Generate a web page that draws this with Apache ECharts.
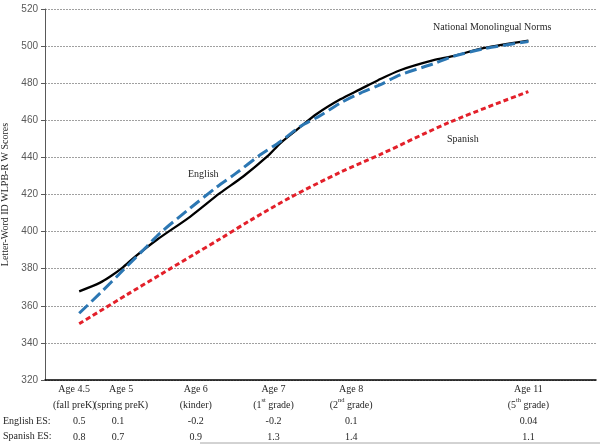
<!DOCTYPE html>
<html>
<head>
<meta charset="utf-8">
<script src="https://cdn.jsdelivr.net/npm/echarts@6/dist/echarts.min.js"></script>
<style>html,body{margin:0;padding:0;background:#fff}#c{width:600px;height:444px}</style>
</head>
<body>
<div id="c"></div>
<script>
// Time points (years after fall preK) used as x positions of the waves
const timePoints = [0, 0.5, 1.5, 2.5, 3.5, 5.78];
const ageLabels = ['Age 4.5', 'Age 5', 'Age 6', 'Age 7', 'Age 8', 'Age 11'];
const gradeLabels = ['(fall preK)', '(spring preK)', '(kinder)', '(1{s|st} grade)', '(2{s|nd} grade)', '(5{s|th} grade)'];
const englishES = ['0.5', '0.1', '-0.2', '-0.2', '0.1', '0.04'];
const spanishES = ['0.8', '0.7', '0.9', '1.3', '1.4', '1.1'];
const yTicks = [320, 340, 360, 380, 400, 420, 440, 460, 480, 500, 520];
const xMin = -0.44, xMax = 6.65;

// Curves: [time, W score]
const normsCurve = [[0,367.8],[0.27,372.5],[0.4,375.8],[0.55,380.3],[0.72,386.5],[1.0,395.6],[1.43,408.1],[1.81,420.7],[2.11,429.7],[2.42,440.5],[2.59,447.7],[2.81,455.2],[3.06,463.5],[3.36,471.3],[3.62,476.8],[3.84,481.5],[4.13,487.0],[4.56,492.4],[4.81,494.6],[5.2,498.9],[5.78,503]];
const englishCurve = [[0,356],[0.27,366.8],[0.57,379.4],[0.87,392],[1.04,399.2],[1.43,412.7],[1.77,424],[2.02,431.5],[2.33,441.4],[2.59,448.6],[2.84,456.5],[3.1,462.5],[3.36,469.3],[3.62,474.7],[3.87,479.1],[4.13,484.5],[4.56,490.5],[4.81,494.4],[5.2,498.5],[5.78,502.5]];
const spanishCurve = [[0,350.3],[0.61,365.9],[1.04,376.7],[1.47,387.5],[1.81,396],[2.2,406],[2.72,418.5],[3.36,432],[3.87,441.5],[4.77,459],[5.78,475.5]];

const serif = 'Liberation Serif, Times New Roman, serif';
const chart = echarts.init(document.getElementById('c'), null, {renderer: 'canvas'});

function xLabel(value) {
  const i = timePoints.findIndex(t => Math.abs(t - value) < 1e-6);
  if (i < 0) return '';
  let st = 'a';
  if (i === 0) st = 'l';
  if (i === 1) st = 'r';
  return '{' + st + '|' + ageLabels[i] + '}\n{' + st + '|' + gradeLabels[i].replace(/\{s\|(\w+)\}/, '}{s|$1}{' + st + '|') + '}\n{e|' + englishES[i] + '}\n{e|' + spanishES[i] + '}';
}

const labelRich = {
  a: {fontFamily: serif, fontSize: 10, color: '#262626', lineHeight: 16},
  l: {fontFamily: serif, fontSize: 10, color: '#262626', lineHeight: 16, padding: [0, 10, 0, 0]},
  r: {fontFamily: serif, fontSize: 10, color: '#262626', lineHeight: 16, padding: [0, 0, 0, 6]},
  s: {fontFamily: serif, fontSize: 6.5, color: '#262626', lineHeight: 16, verticalAlign: 'top', padding: [0, 0, 3, 0]},
  e: {fontFamily: serif, fontSize: 10, color: '#262626', lineHeight: 16}
};

chart.setOption({
  animation: false,
  backgroundColor: '#fff',
  grid: {left: 45, right: 4, top: 9, bottom: 64, containLabel: false, outerBoundsMode: 'none'},
  xAxis: {
    type: 'value', min: xMin, max: xMax,
    axisLine: {show: true, onZero: false, lineStyle: {color: '#000', width: 1.5}},
    axisTick: {show: false},
    splitLine: {show: false},
    axisLabel: {
      customValues: [xMin].concat(timePoints),
      formatter: xLabel,
      rich: labelRich,
      margin: 1,
      hideOverlap: false,
      showMinLabel: true,
      showMaxLabel: true
    }
  },
  yAxis: {
    type: 'value', min: yTicks[0], max: yTicks[yTicks.length - 1], interval: 20,
    name: 'Letter-Word ID WLPB-R W Scores',
    nameLocation: 'middle', nameGap: 34,
    nameTextStyle: {fontFamily: serif, fontSize: 10, color: '#262626'},
    axisLine: {show: true, onZero: false, lineStyle: {color: '#595959', width: 1}},
    axisTick: {show: true, length: 4, lineStyle: {color: '#595959'}},
    axisLabel: {fontFamily: 'Liberation Sans, Arial, sans-serif', fontSize: 10, color: '#595959', margin: 7},
    splitLine: {show: true, lineStyle: {color: '#a0a0a0', width: 1, type: [2, 1]}}
  },
  series: [
    {
      name: 'National Monolingual Norms', type: 'line', data: normsCurve, smooth: 0.3,
      showSymbol: false, lineStyle: {color: '#000', width: 2.3}, z: 3
    },
    {
      name: 'English', type: 'line', data: englishCurve, smooth: 0.3,
      showSymbol: false, lineStyle: {color: '#2c77b3', width: 3, type: [12, 5]}, z: 4
    },
    {
      name: 'Spanish', type: 'line', data: spanishCurve, smooth: 0.3,
      showSymbol: false, lineStyle: {color: '#e3202a', width: 3, type: [5, 3]}, z: 2
    }
  ],
  graphic: [
    {type: 'text', left: 433, top: 22, style: {text: 'National Monolingual Norms', font: '10px ' + serif, fill: '#262626'}},
    {type: 'text', left: 188, top: 169, style: {text: 'English', font: '10px ' + serif, fill: '#262626'}},
    {type: 'text', left: 447, top: 134, style: {text: 'Spanish', font: '10px ' + serif, fill: '#262626'}},
    {type: 'text', left: 3, top: 416, style: {text: 'English ES:', font: '10px ' + serif, fill: '#262626'}},
    {type: 'text', left: 3, top: 431, style: {text: 'Spanish ES:', font: '10px ' + serif, fill: '#262626'}},
    {type: 'line', shape: {x1: 200, y1: 443, x2: 600, y2: 443}, style: {stroke: '#a6a6a6', lineWidth: 1}}
  ]
});
</script>
</body>
</html>
